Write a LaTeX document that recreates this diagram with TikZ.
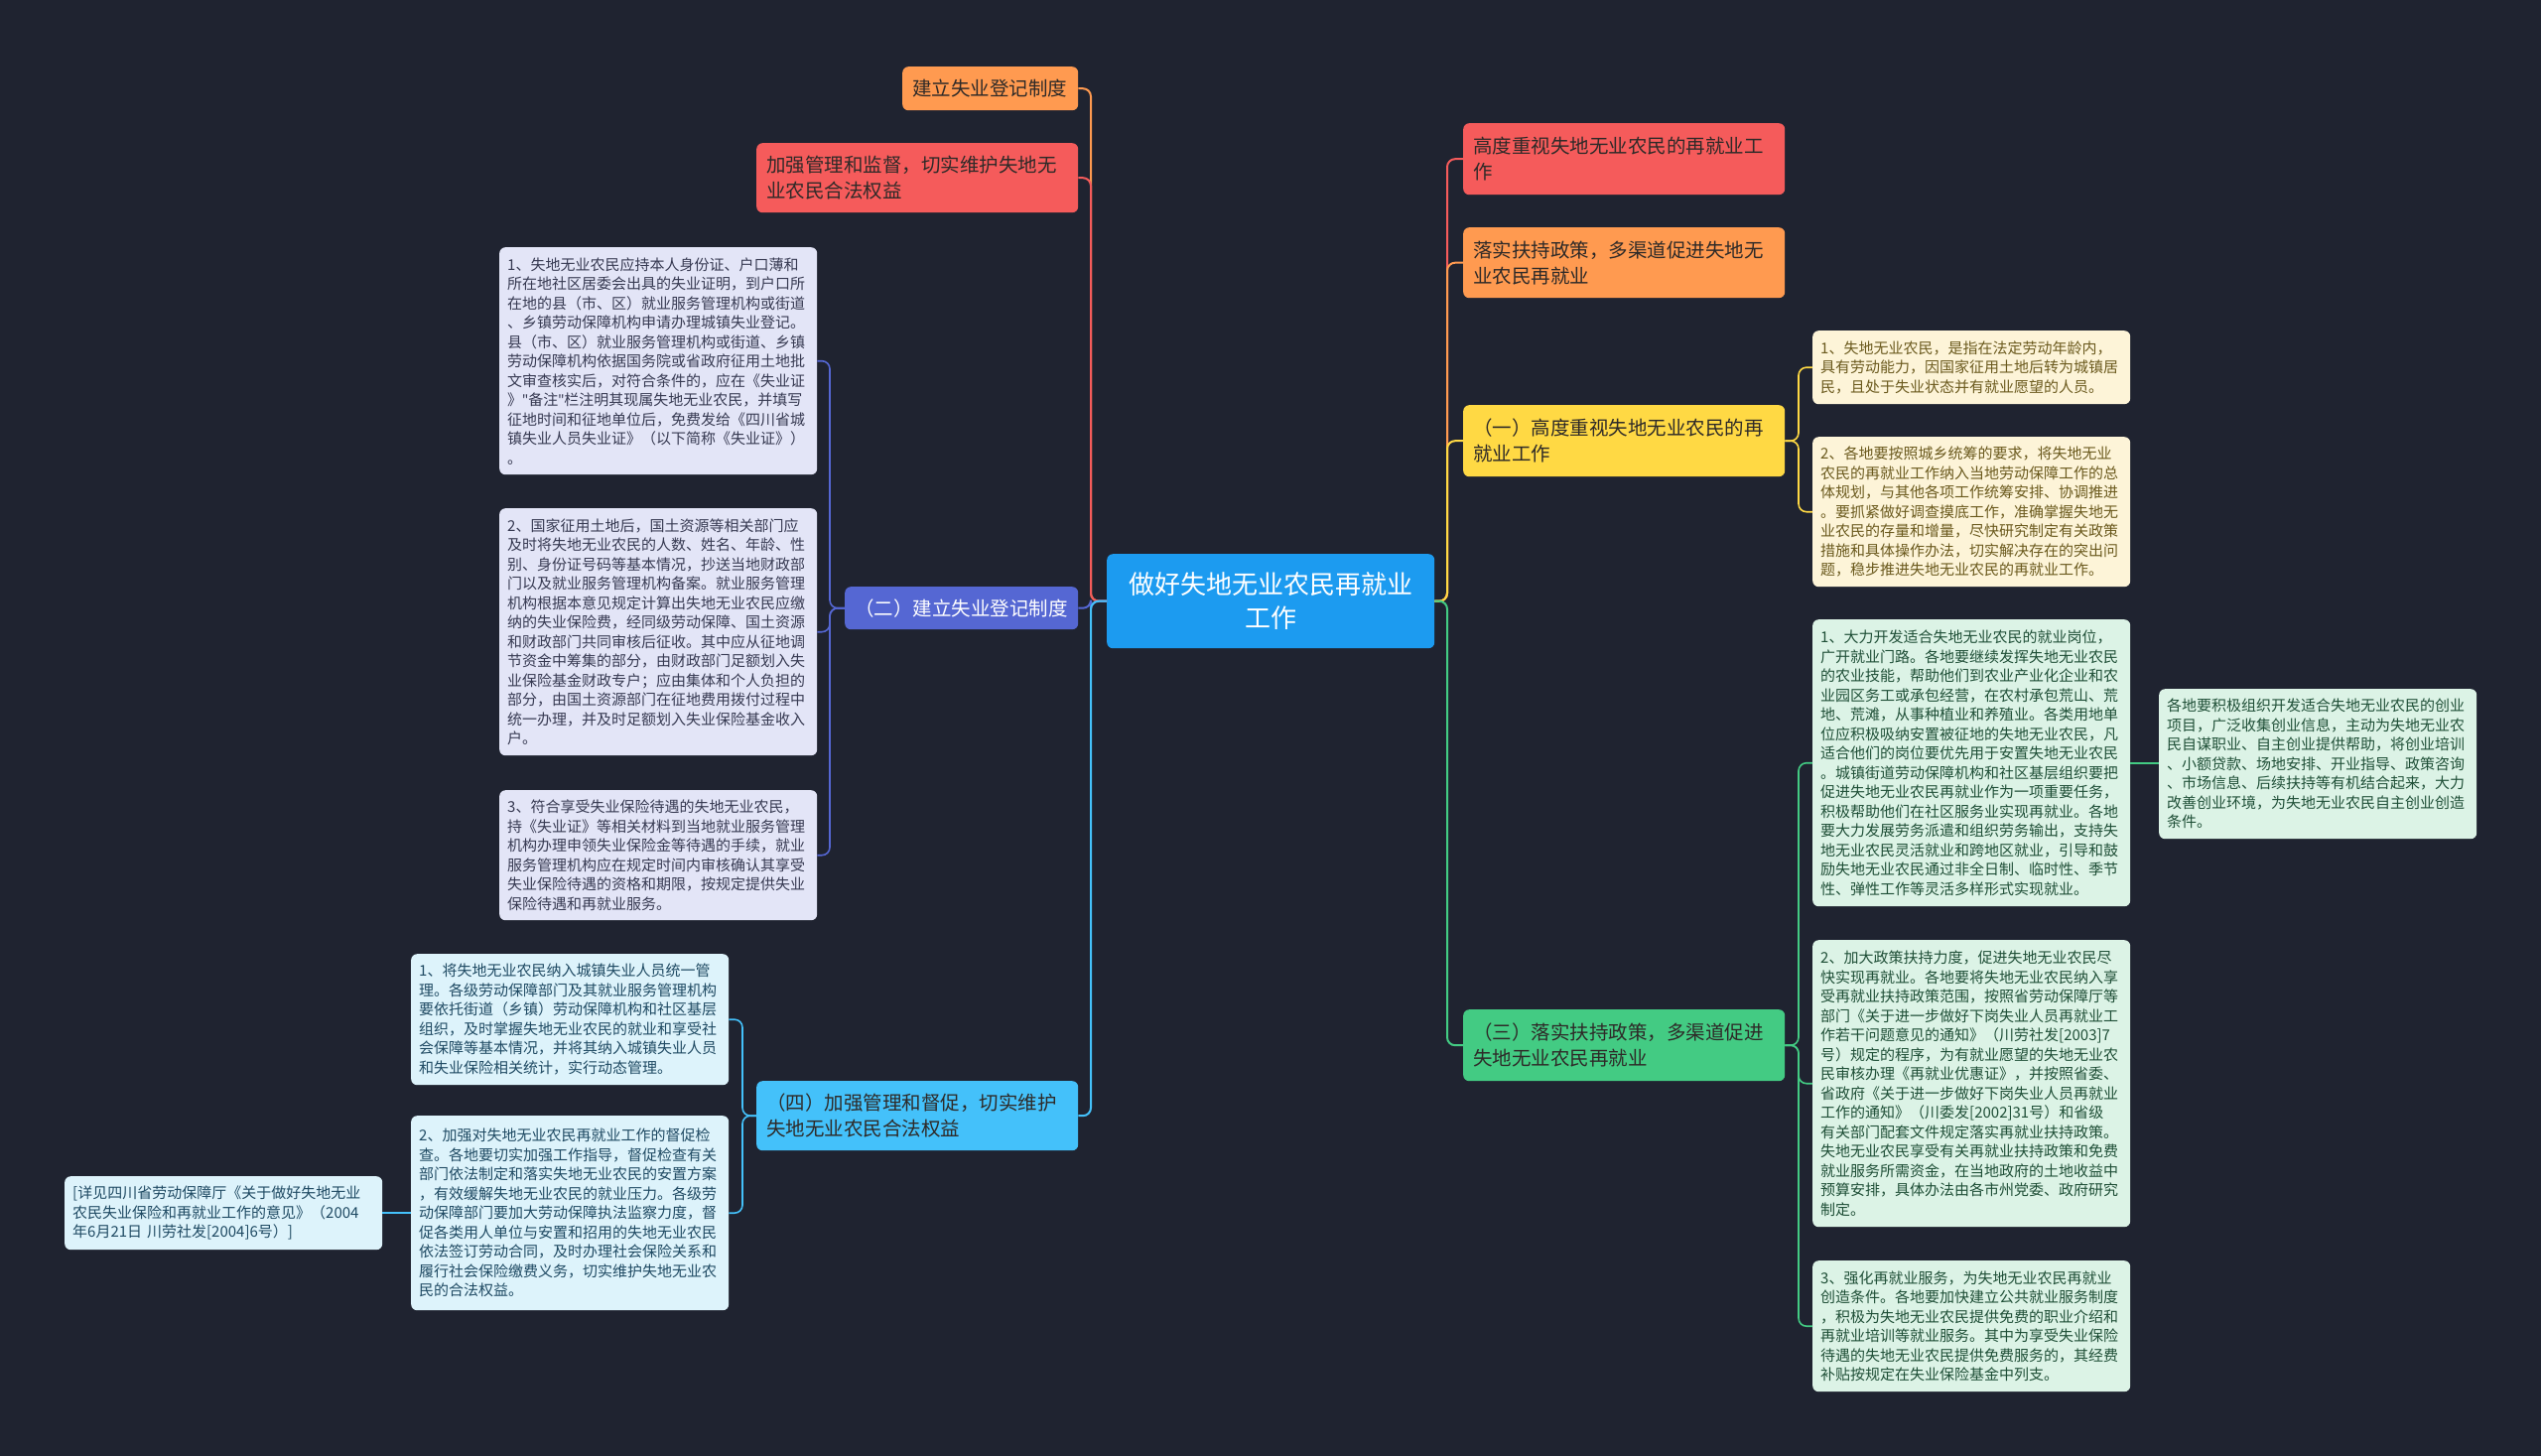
\documentclass[tikz,border=0pt]{standalone}
\usepackage{fontspec}
\setmainfont{Noto Sans CJK SC}
\newfontfamily\latinq{Noto Sans}
\usetikzlibrary{calc}
\definecolor{bg}{HTML}{1F2330}
\definecolor{cCenter}{HTML}{1C9BF0}
\definecolor{cOrange}{HTML}{FF9A50}
\definecolor{cRed}{HTML}{F55B5B}
\definecolor{cIndigo}{HTML}{5567D3}
\definecolor{cSky}{HTML}{44C1FA}
\definecolor{cYellow}{HTML}{FFD944}
\definecolor{cGreen}{HTML}{43CB83}
\definecolor{fIndigo}{HTML}{E3E5F7}
\definecolor{fSky}{HTML}{DDF3FB}
\definecolor{fYellow}{HTML}{FDF4D8}
\definecolor{fGreen}{HTML}{DCF3E6}
\definecolor{tIndigo}{HTML}{373A52}
\definecolor{tSky}{HTML}{1F4A63}
\definecolor{tYellow}{HTML}{6B5A1E}
\definecolor{tGreen}{HTML}{1F4F37}
\definecolor{tDark}{HTML}{2E2A28}
\begin{document}
\begin{tikzpicture}[x=1pt,y=-1pt,
  lvone/.style={rounded corners=6pt, inner sep=0pt, anchor=north west, align=left,
    font=\fontsize{19.5}{26}\selectfont, text=tDark},
  leaf/.style={rounded corners=6pt, inner sep=0pt, anchor=north west, align=left,
    font=\fontsize{15}{19.5}\selectfont, minimum width=320pt, text width=304pt},
  cn/.style={line width=2pt, rounded corners=8pt},
  cl/.style={line width=1.6pt, rounded corners=8pt}]
\useasboundingbox[fill=bg] (0,0) rectangle (2560,1467);

% trunks
\coordinate (lt) at (1099,0);
\coordinate (rt) at (1458,0);
\coordinate (t2) at (836,0);
\coordinate (t4) at (748,0);
\coordinate (t1) at (1812,0);
\coordinate (t3) at (1812,0);

% center
\node[rounded corners=6pt, inner sep=0pt, anchor=north west, align=center, fill=cCenter, text=white,
  font=\fontsize{26}{34}\selectfont, minimum width=330pt, minimum height=95pt, text width=300pt]
  (c) at (1115,558) {做好失地无业农民再就业\\工作};

% left level one
\node[lvone, fill=cOrange, minimum width=177pt, minimum height=44pt, text width=157pt]
  (a1) at (909,67) {建立失业登记制度};
\node[lvone, fill=cRed, minimum width=324pt, minimum height=70pt, text width=304pt]
  (a2) at (762,144) {加强管理和监督，切实维护失地无\\业农民合法权益};
\node[lvone, fill=cIndigo, text=white, minimum width=235pt, minimum height=43pt, text width=215pt]
  (a3) at (851,591) {（二）建立失业登记制度};
\node[lvone, fill=cSky, minimum width=324pt, minimum height=70pt, text width=304pt]
  (a4) at (762,1089) {（四）加强管理和督促，切实维护\\失地无业农民合法权益};

% right level one
\node[lvone, fill=cRed, minimum width=324pt, minimum height=72pt, text width=304pt]
  (r1) at (1474,124) {高度重视失地无业农民的再就业工\\作};
\node[lvone, fill=cOrange, minimum width=324pt, minimum height=71pt, text width=304pt]
  (r2) at (1474,229) {落实扶持政策，多渠道促进失地无\\业农民再就业};
\node[lvone, fill=cYellow, minimum width=324pt, minimum height=72pt, text width=304pt]
  (r3) at (1474,408) {（一）高度重视失地无业农民的再\\就业工作};
\node[lvone, fill=cGreen, minimum width=324pt, minimum height=72pt, text width=304pt]
  (r4) at (1474,1017) {（三）落实扶持政策，多渠道促进\\失地无业农民再就业};

% leaves of (二)
\node[leaf, fill=fIndigo, text=tIndigo, minimum height=229pt] (b1) at (503,249) {1、失地无业农民应持本人身份证、户口薄和\\所在地社区居委会出具的失业证明，到户口所\\在地的县（市、区）就业服务管理机构或街道\\、乡镇劳动保障机构申请办理城镇失业登记。\\县（市、区）就业服务管理机构或街道、乡镇\\劳动保障机构依据国务院或省政府征用土地批\\文审查核实后，对符合条件的，应在《失业证\\》{\latinq "}备注{\latinq "}栏注明其现属失地无业农民，并填写\\征地时间和征地单位后，免费发给《四川省城\\镇失业人员失业证》（以下简称《失业证》）\\。};
\node[leaf, fill=fIndigo, text=tIndigo, minimum height=249pt] (b2) at (503,512) {2、国家征用土地后，国土资源等相关部门应\\及时将失地无业农民的人数、姓名、年龄、性\\别、身份证号码等基本情况，抄送当地财政部\\门以及就业服务管理机构备案。就业服务管理\\机构根据本意见规定计算出失地无业农民应缴\\纳的失业保险费，经同级劳动保障、国土资源\\和财政部门共同审核后征收。其中应从征地调\\节资金中筹集的部分，由财政部门足额划入失\\业保险基金财政专户；应由集体和个人负担的\\部分，由国土资源部门在征地费用拨付过程中\\统一办理，并及时足额划入失业保险基金收入\\户。};
\node[leaf, fill=fIndigo, text=tIndigo, minimum height=131pt] (b3) at (503,796) {3、符合享受失业保险待遇的失地无业农民，\\持《失业证》等相关材料到当地就业服务管理\\机构办理申领失业保险金等待遇的手续，就业\\服务管理机构应在规定时间内审核确认其享受\\失业保险待遇的资格和期限，按规定提供失业\\保险待遇和再就业服务。};

% leaves of (四)
\node[leaf, fill=fSky, text=tSky, minimum height=132pt] (d1) at (414,961) {1、将失地无业农民纳入城镇失业人员统一管\\理。各级劳动保障部门及其就业服务管理机构\\要依托街道（乡镇）劳动保障机构和社区基层\\组织，及时掌握失地无业农民的就业和享受社\\会保障等基本情况，并将其纳入城镇失业人员\\和失业保险相关统计，实行动态管理。};
\node[leaf, fill=fSky, text=tSky, minimum height=196pt] (d2) at (414,1124) {2、加强对失地无业农民再就业工作的督促检\\查。各地要切实加强工作指导，督促检查有关\\部门依法制定和落实失地无业农民的安置方案\\，有效缓解失地无业农民的就业压力。各级劳\\动保障部门要加大劳动保障执法监察力度，督\\促各类用人单位与安置和招用的失地无业农民\\依法签订劳动合同，及时办理社会保险关系和\\履行社会保险缴费义务，切实维护失地无业农\\民的合法权益。};
\node[leaf, fill=fSky, text=tSky, minimum height=74pt] (f) at (65,1185) {[详见四川省劳动保障厅《关于做好失地无业\\农民失业保险和再就业工作的意见》（2004\\年6月21日 川劳社发[2004]6号）]};

% leaves of (一)
\node[leaf, fill=fYellow, text=tYellow, minimum height=74pt] (y1) at (1826,333) {1、失地无业农民，是指在法定劳动年龄内，\\具有劳动能力，因国家征用土地后转为城镇居\\民，且处于失业状态并有就业愿望的人员。};
\node[leaf, fill=fYellow, text=tYellow, minimum height=151pt] (y2) at (1826,440) {2、各地要按照城乡统筹的要求，将失地无业\\农民的再就业工作纳入当地劳动保障工作的总\\体规划，与其他各项工作统筹安排、协调推进\\。要抓紧做好调查摸底工作，准确掌握失地无\\业农民的存量和增量，尽快研究制定有关政策\\措施和具体操作办法，切实解决存在的突出问\\题，稳步推进失地无业农民的再就业工作。};

% leaves of (三)
\node[leaf, fill=fGreen, text=tGreen, minimum height=289pt] (g1) at (1826,624) {1、大力开发适合失地无业农民的就业岗位，\\广开就业门路。各地要继续发挥失地无业农民\\的农业技能，帮助他们到农业产业化企业和农\\业园区务工或承包经营，在农村承包荒山、荒\\地、荒滩，从事种植业和养殖业。各类用地单\\位应积极吸纳安置被征地的失地无业农民，凡\\适合他们的岗位要优先用于安置失地无业农民\\。城镇街道劳动保障机构和社区基层组织要把\\促进失地无业农民再就业作为一项重要任务，\\积极帮助他们在社区服务业实现再就业。各地\\要大力发展劳务派遣和组织劳务输出，支持失\\地无业农民灵活就业和跨地区就业，引导和鼓\\励失地无业农民通过非全日制、临时性、季节\\性、弹性工作等灵活多样形式实现就业。};
\node[leaf, fill=fGreen, text=tGreen, minimum height=289pt] (g2) at (1826,947) {2、加大政策扶持力度，促进失地无业农民尽\\快实现再就业。各地要将失地无业农民纳入享\\受再就业扶持政策范围，按照省劳动保障厅等\\部门《关于进一步做好下岗失业人员再就业工\\作若干问题意见的通知》（川劳社发[2003]7\\号）规定的程序，为有就业愿望的失地无业农\\民审核办理《再就业优惠证》，并按照省委、\\省政府《关于进一步做好下岗失业人员再就业\\工作的通知》（川委发[2002]31号）和省级\\有关部门配套文件规定落实再就业扶持政策。\\失地无业农民享受有关再就业扶持政策和免费\\就业服务所需资金，在当地政府的土地收益中\\预算安排，具体办法由各市州党委、政府研究\\制定。};
\node[leaf, fill=fGreen, text=tGreen, minimum height=132pt] (g3) at (1826,1270) {3、强化再就业服务，为失地无业农民再就业\\创造条件。各地要加快建立公共就业服务制度\\，积极为失地无业农民提供免费的职业介绍和\\再就业培训等就业服务。其中为享受失业保险\\待遇的失地无业农民提供免费服务的，其经费\\补贴按规定在失业保险基金中列支。};
\node[leaf, fill=fGreen, text=tGreen, minimum height=151pt] (h) at (2175,694) {各地要积极组织开发适合失地无业农民的创业\\项目，广泛收集创业信息，主动为失地无业农\\民自谋职业、自主创业提供帮助，将创业培训\\、小额贷款、场地安排、开业指导、政策咨询\\、市场信息、后续扶持等有机结合起来，大力\\改善创业环境，为失地无业农民自主创业创造\\条件。};

% main connectors
\draw[cn, cOrange] (c.west) -| (lt |- a1.east) -- (a1.east);
\draw[cn, cRed] (c.west) -| (lt |- a2.east) -- (a2.east);
\draw[cn, cIndigo] (c.west) -| (lt |- a3.east) -- (a3.east);
\draw[cn, cSky] (c.west) -| (lt |- a4.east) -- (a4.east);
\draw[cn, cRed] (c.east) -| (rt |- r1.west) -- (r1.west);
\draw[cn, cOrange] (c.east) -| (rt |- r2.west) -- (r2.west);
\draw[cn, cYellow] (c.east) -| (rt |- r3.west) -- (r3.west);
\draw[cn, cGreen] (c.east) -| (rt |- r4.west) -- (r4.west);

% leaf connectors
\foreach \n in {b1,b2,b3}
  \draw[cl, cIndigo] (a3.west) -| (t2 |- \n.east) -- (\n.east);
\foreach \n in {d1,d2}
  \draw[cl, cSky] (a4.west) -| (t4 |- \n.east) -- (\n.east);
\draw[cl, cSky] (d2.west) -- (f.east |- d2.west);
\foreach \n in {y1,y2}
  \draw[cl, cYellow] (r3.east) -| (t1 |- \n.west) -- (\n.west);
\foreach \n in {g1,g2,g3}
  \draw[cl, cGreen] (r4.east) -| (t3 |- \n.west) -- (\n.west);
\draw[cl, cGreen] (g1.east) -- (h.west |- g1.east);
\end{tikzpicture}
\end{document}
